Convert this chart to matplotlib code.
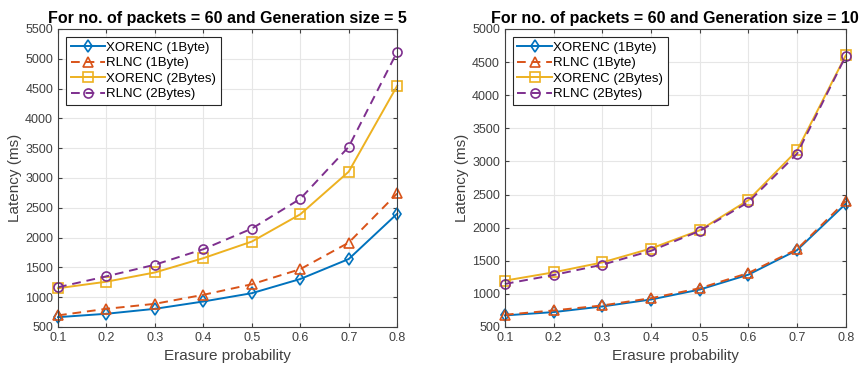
import numpy as np
import matplotlib
matplotlib.use("Agg")
import matplotlib.pyplot as plt

plt.rcParams['font.family'] = ['Liberation Sans', 'DejaVu Sans']

erasure = [0.1, 0.2, 0.3, 0.4, 0.5, 0.6, 0.7, 0.8]

# generation size = 5
xor1_g5 = [665, 722, 805, 928, 1067, 1305, 1640, 2400]
rlnc1_g5 = [695, 805, 889, 1040, 1217, 1470, 1915, 2740]
xor2_g5 = [1150, 1260, 1415, 1655, 1933, 2390, 3105, 4545]
rlnc2_g5 = [1167, 1350, 1545, 1805, 2150, 2650, 3522, 5115]

# generation size = 10
xor1_g10 = [675, 725, 810, 915, 1065, 1290, 1660, 2360]
rlnc1_g10 = [685, 750, 825, 935, 1085, 1315, 1675, 2400]
xor2_g10 = [1200, 1325, 1475, 1685, 1960, 2415, 3165, 4600]
rlnc2_g10 = [1150, 1285, 1440, 1650, 1950, 2385, 3115, 4590]

labels = ['XORENC (1Byte)', 'RLNC (1Byte)', 'XORENC (2Bytes)', 'RLNC (2Bytes)']
colors = ['#0072BD', '#D95319', '#EDB120', '#7E2F8E']
markers = ['d', '^', 's', 'o']
styles = ['-', (0, (4.5, 3)), '-', (0, (4.5, 3))]

fig = plt.figure(figsize=(8.63, 3.71), dpi=100)
ax1 = fig.add_axes([0.0672, 0.1186, 0.393, 0.8034])
ax2 = fig.add_axes([0.585, 0.1186, 0.395, 0.8034])


def draw(ax, series, title, ymax):
    for ys, lab, c, m, ls in zip(series, labels, colors, markers, styles):
        ax.plot(erasure, ys, linestyle=ls, color=c, marker=m, markersize=6.5,
                markerfacecolor='none', markeredgewidth=1.2, linewidth=1.4,
                label=lab, clip_on=False)
    ax.set_xlim(0.1, 0.8)
    ax.set_ylim(500, ymax)
    ax.set_xticks(erasure)
    ax.set_yticks(np.arange(500, ymax + 1, 500))
    ax.grid(True, color='#e6e6e6', linewidth=0.8)
    ax.set_axisbelow(True)
    ax.tick_params(direction='in', length=3, labelsize=9, colors='#404040',
                   top=True, right=True)
    for s in ax.spines.values():
        s.set_color('#404040')
        s.set_linewidth(0.8)
    ax.set_title(title, fontsize=11.5, fontweight='bold', pad=4)
    ax.set_xlabel('Erasure probability', fontsize=11, color='#404040')
    ax.set_ylabel('Latency (ms)', fontsize=11, color='#404040', labelpad=2)
    leg = ax.legend(loc='upper left', fontsize=9.5, handlelength=2.6,
                    handletextpad=0.1, borderpad=0.35, labelspacing=0.25,
                    fancybox=False, framealpha=1, borderaxespad=0.6)
    leg.get_frame().set_edgecolor('#262626')
    leg.get_frame().set_linewidth(0.8)


draw(ax1, [xor1_g5, rlnc1_g5, xor2_g5, rlnc2_g5],
     'For no. of packets = 60 and Generation size = 5', 5500)
draw(ax2, [xor1_g10, rlnc1_g10, xor2_g10, rlnc2_g10],
     'For no. of packets = 60 and Generation size = 10', 5000)

fig.savefig('out.png', dpi=100)
